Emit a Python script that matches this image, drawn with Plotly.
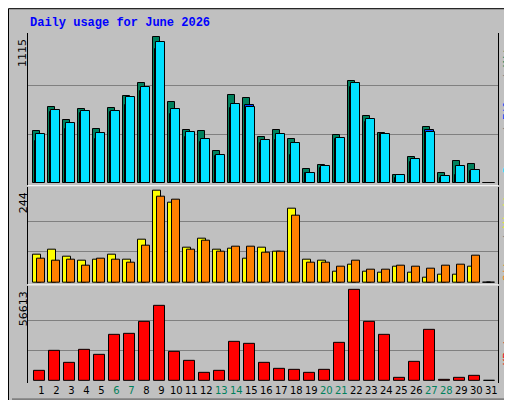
import plotly.graph_objects as go

days = list(range(1, 32))
hits = [396, 578, 479, 563, 411, 570, 661, 759, 1115, 616, 404, 396, 245, 669, 648,
        351, 404, 336, 108, 139, 366, 775, 510, 381, 63, 199, 426, 71, 169, 146, 0]
files = [320, 542, 411, 532, 336, 540, 593, 701, 1024, 525, 351, 313, 207, 570, 593,
         303, 328, 214, 78, 116, 336, 729, 464, 373, 40, 161, 404, 40, 56, 93, 0]
pages = [373, 553, 457, 548, 381, 548, 653, 729, 1080, 563, 389, 336, 214, 600, 578,
         328, 373, 305, 78, 131, 343, 759, 487, 373, 56, 184, 389, 48, 131, 101, 0]
visits = [75, 88, 70, 59, 62, 75, 62, 115, 244, 212, 93, 117, 88, 91, 64,
          93, 83, 196, 62, 59, 30, 48, 30, 25, 41, 27, 14, 22, 22, 43, 0]
sites = [64, 59, 62, 46, 64, 62, 54, 99, 228, 220, 88, 111, 83, 96, 96,
         80, 83, 178, 54, 54, 43, 59, 35, 33, 46, 41, 38, 46, 48, 72, 0]
kbytes = [6589, 18943, 11530, 19560, 16472, 28826, 29444, 36856, 46740, 18325, 12766,
          5353, 6589, 24502, 23267, 11530, 7824, 7206, 5353, 7206, 23885, 56613, 36856,
          28826, 2265, 12148, 31914, 1030, 2265, 3500, 0]
weekend = [6, 7, 13, 14, 20, 21, 27, 28]
max_hits, max_visits, max_kb = 1115, 244, 56613

W, H = 512, 400
L, R, T, B = 20, 22, 25, 22
ph = H - T - B
pw = W - L - R


def ydom(top, bot):
    return [(H - B - bot) / ph, (H - B - top) / ph]


fig = go.Figure()
line = dict(color="black", width=1)


def bar(y, ax, color, offset, width):
    fig.add_trace(go.Bar(x=days, y=y, xaxis="x", yaxis=ax, offset=offset, width=width,
                         marker=dict(color=color, line=line), showlegend=False, hoverinfo="skip"))


bar(hits, "y", "#00805C", -0.55, 0.48)
bar(files, "y", "#0040FF", -0.44, 0.62)
bar(pages, "y", "#00E0FF", -0.33, 0.56)
bar(visits, "y2", "#FFFF00", -0.55, 0.55)
bar(sites, "y2", "#FF8000", -0.29, 0.52)
bar(kbytes, "y3", "#FF0000", -0.49, 0.72)

ticktext = [f"<span style='color:#00805C'>{d}</span>" if d in weekend else str(d) for d in days]
grid = dict(showgrid=True, gridcolor="#808080", gridwidth=1, zeroline=False,
            showticklabels=False, ticks="", showline=True, mirror=True, linecolor="black")
fig.update_layout(
    width=W, height=H, margin=dict(l=L, r=R, t=T, b=B),
    paper_bgcolor="#C0C0C0", plot_bgcolor="#C0C0C0", barmode="overlay", bargap=0,
    xaxis=dict(range=[0.11, 31.45], tickvals=days, ticktext=ticktext, showgrid=False,
               zeroline=False, ticks="", tickangle=0,
               tickfont=dict(family="DejaVu Sans", size=10, color="black"),
               anchor="y3", showline=False),
    yaxis=dict(domain=ydom(25, 178), range=[-15, 1145],
               tickvals=[max_hits / 3, max_hits * 2 / 3], **grid),
    yaxis2=dict(domain=ydom(180, 278), range=[-3.4, 255],
                tickvals=[max_visits / 3, max_visits * 2 / 3], **grid),
    yaxis3=dict(domain=ydom(280, 378), range=[-1234, 59266],
                tickvals=[max_kb / 3, max_kb * 2 / 3], **grid),
    font=dict(family="DejaVu Sans Mono"),
)


def px_x(x):
    return (x - L) / pw


def px_y(y):
    return (H - B - y) / ph


anns = [
    (20, 15, "Daily usage for June 2026", 0, dict(color="#0000FF", size=12, family="Liberation Mono"), True),
    (15, 29, str(max_hits), -90, dict(color="black", size=11, family="DejaVu Sans"), False),
    (15, 184, str(max_visits), -90, dict(color="black", size=11, family="DejaVu Sans"), False),
    (15, 284, str(max_kb), -90, dict(color="black", size=11, family="DejaVu Sans"), False),
]
for x, y, txt, ang, f, bold in anns:
    fig.add_annotation(xref="paper", yref="paper", x=px_x(x), y=px_y(y),
                       text=f"<b>{txt}</b>" if bold else txt, textangle=ang, showarrow=False,
                       xanchor="left" if ang == 0 else "center",
                       yanchor="middle" if ang == 0 else "top", font=f)

side = [
    (100, "<span style='color:#00E0FF'>Pages</span> / <span style='color:#0040FF'>Files</span> / <span style='color:#00805C'>Hits</span>"),
    (229, "<span style='color:#FF8000'>Sites</span> / <span style='color:#FFFF00'>Visits</span>"),
    (340, "<span style='color:#FF0000'>KBytes</span>"),
]
for y, txt in side:
    fig.add_annotation(xref="paper", yref="paper", x=px_x(499), y=px_y(y), text=txt,
                       textangle=-90, showarrow=False, xanchor="center", yanchor="middle",
                       font=dict(family="DejaVu Sans Mono", size=11, color="#808080"))

# frame: black outline with grey bevel at right/bottom
fig.add_shape(type="line", xref="paper", yref="paper", x0=px_x(W - 4), x1=px_x(W - 4),
              y0=px_y(H - 4), y1=px_y(4), line=dict(color="#808080", width=5), layer="below")
fig.add_shape(type="line", xref="paper", yref="paper", x0=px_x(4), x1=px_x(W - 4),
              y0=px_y(H - 4), y1=px_y(H - 4), line=dict(color="#808080", width=5), layer="below")
fig.add_shape(type="rect", xref="paper", yref="paper", x0=px_x(0.5), x1=px_x(W - 0.5),
              y0=px_y(H - 0.5), y1=px_y(0.5), line=dict(color="black", width=1), layer="below")
for y in (179, 279):
    fig.add_shape(type="line", xref="paper", yref="paper", x0=0, x1=1,
                  y0=px_y(y), y1=px_y(y), line=dict(color="white", width=1))

fig.write_html("out.html")
